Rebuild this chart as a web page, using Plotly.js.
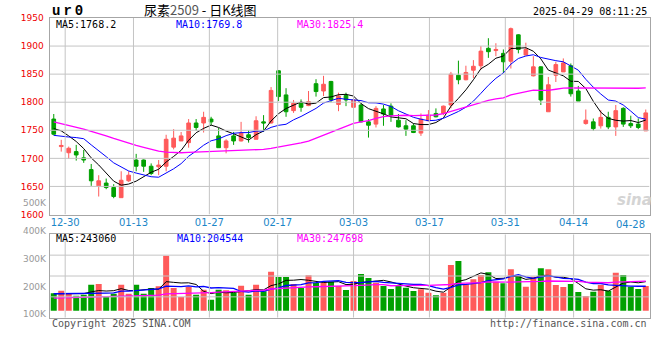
<!DOCTYPE html>
<html><head><meta charset="utf-8">
<script src="https://cdn.plot.ly/plotly-3.0.1.min.js"></script>
<style>html,body{margin:0;padding:0;background:#fff}#chart{width:660px;height:360px}</style>
</head><body><div id="chart"></div>
<script>
const categories = ['2024-12-26','2024-12-27','2024-12-30','2024-12-31','2025-01-02','2025-01-03','2025-01-06','2025-01-07','2025-01-08','2025-01-09','2025-01-10',
'2025-01-13','2025-01-14','2025-01-15','2025-01-16','2025-01-17','2025-01-20','2025-01-21','2025-01-22','2025-01-23','2025-01-24','2025-01-27',
'2025-02-05','2025-02-06','2025-02-07','2025-02-10','2025-02-11','2025-02-12','2025-02-13','2025-02-14',
'2025-02-17','2025-02-18','2025-02-19','2025-02-20','2025-02-21','2025-02-24','2025-02-25','2025-02-26','2025-02-27','2025-02-28',
'2025-03-03','2025-03-04','2025-03-05','2025-03-06','2025-03-07','2025-03-10','2025-03-11','2025-03-12','2025-03-13','2025-03-14',
'2025-03-17','2025-03-18','2025-03-19','2025-03-20','2025-03-21','2025-03-24','2025-03-25','2025-03-26','2025-03-27','2025-03-28',
'2025-03-31','2025-04-01','2025-04-02','2025-04-03','2025-04-07','2025-04-08','2025-04-09','2025-04-10','2025-04-11',
'2025-04-14','2025-04-15','2025-04-16','2025-04-17','2025-04-18','2025-04-21','2025-04-22','2025-04-23','2025-04-24','2025-04-25','2025-04-28'];

const tickDates = ['2024-12-30','2025-01-13','2025-01-27','2025-02-17','2025-03-03','2025-03-17','2025-03-31','2025-04-14','2025-04-28'];
const tickLabels = ['12-30','01-13','01-27','02-17','03-03','03-17','03-31','04-14','04-28'];
const priceTicks = [1600,1650,1700,1750,1800,1850,1900,1950];
const volTickVals = [100000,200000,300000,400000,500000];
const volTickText = ['100K','200K','300K','400K','500K'];

const open = [1770,1721,1710,1712,1701,1680,1651,1656,1648,1630,1660,1697,1697,1686,1685,1686,1720,1731,1728,1763,1763,1770,1740,1719,1740,1731,1742,1734,1765,1763,1856,1813,1785,1799,1794,1833,1820,1837,1796,1812,1791,1795,1765,1761,1788,1793,1768,1758,1758,1745,1767,1780,1780,1795,1848,1840,1857,1865,1896,1892,1887,1873,1920,1884,1847,1863,1783,1848,1854,1865,1820,1762,1765,1758,1773,1756,1789,1762,1761,1749];
const high = [1779,1733,1721,1724,1715,1690,1670,1664,1654,1677,1677,1708,1698,1691,1697,1742,1752,1747,1770,1770,1783,1774,1754,1734,1747,1765,1750,1775,1777,1827,1857,1825,1804,1805,1820,1841,1847,1838,1817,1817,1810,1798,1770,1793,1795,1798,1779,1768,1762,1780,1786,1789,1794,1854,1874,1865,1875,1900,1914,1905,1894,1933,1921,1906,1882,1864,1845,1872,1878,1869,1829,1787,1771,1786,1783,1795,1791,1776,1771,1787];
const low = [1741,1712,1699,1696,1692,1651,1632,1645,1629,1630,1658,1677,1676,1670,1670,1677,1716,1731,1719,1749,1746,1759,1719,1709,1724,1730,1728,1734,1747,1762,1802,1774,1781,1783,1793,1810,1811,1800,1784,1793,1778,1764,1737,1755,1758,1765,1755,1740,1745,1740,1767,1773,1777,1789,1832,1839,1843,1858,1879,1882,1852,1860,1887,1884,1846,1795,1783,1836,1854,1810,1802,1760,1749,1753,1752,1740,1756,1754,1752,1749];
const close = [1743,1723,1718,1706,1697,1660,1660,1648,1632,1661,1670,1686,1686,1673,1688,1734,1736,1740,1763,1755,1773,1765,1719,1731,1731,1745,1737,1767,1763,1821,1810,1783,1798,1791,1801,1819,1832,1804,1811,1804,1804,1765,1759,1789,1779,1777,1756,1752,1746,1770,1777,1774,1793,1850,1840,1853,1864,1891,1890,1894,1872,1931,1894,1894,1863,1804,1831,1867,1870,1815,1802,1768,1753,1773,1756,1785,1761,1758,1755,1781];

const ma5 = [1753,1749,1740,1730,1717.4,1700.8,1688.2,1674.2,1659.4,1652.2,1654.2,1659.4,1667.0,1675.2,1680.6,1693.4,1703.4,1714.2,1732.2,1745.6,1753.4,1759.2,1755.0,1748.6,1743.8,1738.2,1732.6,1742.2,1748.6,1766.6,1779.6,1788.8,1795.0,1800.6,1796.6,1798.4,1808.2,1809.4,1813.4,1814.0,1811.0,1797.6,1788.6,1784.2,1779.2,1773.8,1772.0,1770.6,1762.0,1760.2,1760.2,1763.8,1772.0,1792.8,1806.8,1822.0,1840.0,1859.6,1867.6,1878.4,1882.2,1895.6,1896.2,1897.0,1890.8,1877.2,1857.2,1851.8,1847.0,1837.4,1837.0,1824.4,1801.6,1782.2,1771.2,1767.8,1766.4,1767.4,1763.8,1768.2];
const ma10 = [1741,1739,1738,1737,1735,1724,1714,1703,1692,1684.8,1677.5,1673.8,1670.6,1667.3,1666.4,1673.8,1681.4,1690.6,1703.7,1713.1,1723.4,1731.3,1734.6,1740.4,1744.7,1745.8,1745.9,1748.6,1748.6,1755.2,1758.9,1760.7,1768.6,1774.6,1781.6,1789.0,1798.5,1802.2,1807.0,1805.3,1804.7,1802.9,1799.0,1798.8,1796.6,1792.4,1784.8,1779.6,1773.1,1769.7,1767.0,1767.9,1771.3,1777.4,1783.5,1791.1,1801.9,1815.8,1830.2,1842.6,1852.1,1867.8,1877.9,1882.3,1884.6,1879.7,1876.4,1874.0,1872.0,1864.1,1857.1,1840.8,1826.7,1814.6,1803.9,1802.0,1795.0,1784.1,1772.6,1769.8];
const ma30 = [1765,1762,1758.5,1755,1752,1748,1744.5,1740,1735.5,1731,1727,1723,1719.5,1716,1713,1711,1710,1710,1710.5,1711,1712,1712.5,1713,1713,1713.5,1714,1714,1715,1716,1717.7,1719.9,1721.9,1724.6,1727.4,1730.9,1736.2,1741.9,1747.1,1753.1,1757.9,1762.3,1765.0,1767.4,1771.3,1774.3,1775.7,1776.4,1776.8,1776.2,1776.7,1776.9,1777.2,1779.6,1783.6,1787.2,1790.8,1795.1,1799.2,1803.4,1805.9,1807.9,1812.9,1816.1,1819.5,1821.6,1821.1,1821.0,1823.1,1825.1,1825.5,1825.4,1825.5,1825.3,1824.8,1824.0,1824.3,1824.4,1824.6,1824.9,1825.4];

const volume = [146000,167000,142000,126000,134000,218000,224000,121000,142000,218000,142000,218000,142000,190000,204000,461000,190000,115000,198000,134000,176000,92000,176000,171000,148000,209000,134000,218000,162000,327000,282000,282000,224000,190000,296000,232000,238000,243000,207000,173000,249000,307000,274000,234000,207000,182000,215000,193000,165000,179000,151000,129000,151000,383000,416000,221000,263000,299000,322000,243000,229000,347000,291000,201000,285000,355000,347000,215000,198000,224000,157000,123000,159000,215000,168000,318000,299000,201000,182000,207000];
const volMa5 = [142000,143000,143000,143000,143000,157400,168800,164600,167800,184600,169400,168200,172400,182000,179200,243000,237400,232000,233600,219600,162600,143000,155200,149800,152600,159200,167600,176000,174200,210000,224600,254200,255400,261000,254800,244800,236000,239800,243200,218600,222000,235800,242000,247400,254200,240800,222400,206200,192400,186800,180600,163400,155000,198600,246000,260000,286800,316400,304200,269600,271200,288000,286400,262200,270600,295800,295800,280600,280000,267800,228200,183400,172200,175600,164400,196600,231800,240200,233600,243060];
const volMa10 = [142000,142000,143000,143000,144000,145000,146000,147000,149000,163800,163400,168500,168500,174900,181900,206200,202800,202200,207800,199400,202800,190200,193600,191700,186100,160900,155300,165600,162000,181300,191900,210900,215700,217600,232400,234700,245100,247600,252100,236700,233400,235900,240900,245300,236400,231400,229100,224100,219900,220500,210700,192900,180600,195500,216400,220300,225100,235700,251400,257800,265600,287400,301400,283200,270100,283500,291900,283500,271100,269200,262000,239600,226400,227800,216100,212400,207600,206200,204600,204544];
const volMa30 = [106000,108000,110000,111000,113000,114000,116000,117000,119000,120000,122000,124000,126000,128000,130000,141000,142000,144000,146000,148000,150000,152000,155000,157000,160000,163000,166000,169000,173000,181500,186000,189900,192600,194700,200100,200600,201100,205100,207300,205800,209400,212300,216700,218200,218300,209000,209800,212400,211300,212800,212000,213200,212400,219500,228400,228800,233100,235800,241100,238300,236600,238700,241000,241300,241000,245100,248700,247800,247500,249200,246100,240000,236100,235500,234200,238700,241500,241800,242400,247698];

// ---------- styling / geometry ----------
const W = 660, H = 360;
const px = v => v / W, py = v => 1 - v / H;
const RED = '#ff5a5a', GREEN = '#00a000';
const GRID = '#c4c4c4', FRAME = '#a6a6a6';
const MONO = 'DejaVu Sans Mono', SANS = 'DejaVu Sans';
const L = 50, R = 649.5;
const PRICE_TOP = 18, PRICE_BOTTOM = 214.5;
const VOL_TOP = 234.3, VOL_BOTTOM = 317.7, VOL_BASE = 310.7, VOL_PER_PX = 8373;
const volRange = [-(VOL_BOTTOM - VOL_BASE) * VOL_PER_PX, (VOL_BASE - VOL_TOP) * VOL_PER_PX];
const xRange = [-0.5, categories.length - 0.5];
const idxRange = [0, categories.length - 1];
const gridIdx = tickDates.slice(0, -1).map(d => categories.indexOf(d));
const lastIdx = tickDates.length - 1;

const barColors = close.map((c, i) => c >= open[i] ? RED : GREEN);
const lineT = (y, color, xa, ya, w) => ({type: 'scatter', mode: 'lines', x: categories, y: y, xaxis: xa, yaxis: ya,
  line: {color: color, width: w || 1}, hoverinfo: 'skip', showlegend: false});
const holder = (xa, ya) => ({type: 'scatter', mode: 'markers', x: [], y: [], xaxis: xa, yaxis: ya,
  hoverinfo: 'skip', showlegend: false});

// grid lines, drawn on the grid axes (x4 / x5 run from first to last trading day)
function gridTrace(xa, ya, hVals, vVals, yEnds) {
  const gx = [], gy = [];
  hVals.forEach(v => { gx.push(idxRange[0], idxRange[1], null); gy.push(v, v, null); });
  vVals.forEach(v => { gx.push(v, v, null); gy.push(yEnds[0], yEnds[1], null); });
  return {type: 'scatter', mode: 'lines', x: gx, y: gy, xaxis: xa, yaxis: ya, connectgaps: false,
    line: {color: GRID, width: 1}, hoverinfo: 'skip', showlegend: false};
}
const volQuarter = (volRange[1] - volRange[0]) / 4;
const volGrid = [1, 2, 3].map(k => volRange[0] + k * volQuarter);

const data = [
  gridTrace('x4', 'y', priceTicks.slice(1, -1), gridIdx, [priceTicks[0], priceTicks[priceTicks.length - 1]]),
  gridTrace('x5', 'y2', volGrid, gridIdx, volRange),
  holder('x3', 'y3'),
  {type: 'candlestick', x: categories, open: open, high: high, low: low, close: close, xaxis: 'x', yaxis: 'y',
   increasing: {line: {color: RED, width: 1}, fillcolor: RED},
   decreasing: {line: {color: GREEN, width: 1}, fillcolor: GREEN},
   whiskerwidth: 0, hoverinfo: 'skip', showlegend: false},
  lineT(ma5, '#000000', 'x', 'y', 1),
  lineT(ma10, '#0000ff', 'x', 'y', 1),
  lineT(ma30, '#ff00ff', 'x', 'y', 1.3),
  {type: 'bar', x: categories, y: volume, xaxis: 'x2', yaxis: 'y2', marker: {color: barColors, line: {width: 0}},
   hoverinfo: 'skip', showlegend: false},
  lineT(volMa5, '#000000', 'x2', 'y2', 1),
  lineT(volMa10, '#0000ff', 'x2', 'y2', 1.3),
  lineT(volMa30, '#ff00ff', 'x2', 'y2', 1.3)
];

const mono = (size, color) => ({family: MONO, size: size, color: color});
const ann = (text, x, y, xanchor, font) => ({text: text, x: px(x), y: py(y), xref: 'paper', yref: 'paper',
  xanchor: xanchor, yanchor: 'middle', showarrow: false, font: font});
const noGrid = {showgrid: false, zeroline: false};

const layout = {
  width: W, height: H, margin: {l: 0, r: 0, t: 0, b: 0},
  paper_bgcolor: '#ffffff', plot_bgcolor: 'rgba(0,0,0,0)',
  showlegend: false, bargap: 0.2, boxgap: 0.3,
  xaxis: Object.assign({type: 'category', domain: [px(L), px(R)], range: xRange, anchor: 'y',
    rangeslider: {visible: false},
    showline: true, mirror: true, linecolor: FRAME, linewidth: 1.5,
    tickmode: 'array', tickvals: [tickDates[lastIdx]], ticktext: [tickLabels[lastIdx]],
    ticklabelposition: 'outside left', ticks: '',
    tickfont: {family: SANS, size: 10, color: '#1a86c8'}}, noGrid),
  xaxis4: Object.assign({overlaying: 'x', anchor: 'y', range: idxRange, type: 'linear', autorange: false,
    tickmode: 'array', tickvals: gridIdx, ticktext: tickLabels.slice(0, -1), ticks: '', showline: false,
    tickfont: {family: SANS, size: 10, color: '#1a86c8'}}, noGrid),
  yaxis: Object.assign({domain: [py(PRICE_BOTTOM), py(PRICE_TOP)], range: [1600, 1950], anchor: 'x',
    tickmode: 'array', tickvals: priceTicks, ticks: '', ticklabelstandoff: 3,
    showline: true, mirror: true, linecolor: FRAME, linewidth: 1.5,
    tickfont: {family: SANS, size: 9, color: '#ee0000'}}, noGrid),
  xaxis2: Object.assign({type: 'category', domain: [px(L), px(R)], range: xRange, anchor: 'y2',
    showticklabels: false, ticks: '',
    showline: true, mirror: true, linecolor: FRAME, linewidth: 1.5}, noGrid),
  xaxis5: Object.assign({overlaying: 'x2', anchor: 'y2', range: idxRange, type: 'linear', autorange: false,
    tickmode: 'array', tickvals: gridIdx, showticklabels: false, ticks: '', showline: false}, noGrid),
  yaxis2: Object.assign({domain: [py(VOL_BOTTOM), py(VOL_TOP)], range: volRange, anchor: 'x2',
    showticklabels: false, ticks: '',
    showline: true, mirror: true, linecolor: FRAME, linewidth: 1.5}, noGrid),
  xaxis3: Object.assign({domain: [px(L), px(R)], range: [0, 1], autorange: false, anchor: 'y3',
    showline: false, showticklabels: false, ticks: ''}, noGrid),
  yaxis3: Object.assign({domain: [py(320), py(195)], range: [79400, 528500], autorange: false, anchor: 'x3',
    tickmode: 'array', tickvals: volTickVals, ticktext: volTickText, ticks: '', ticklabelstandoff: 3,
    showline: false, tickfont: {family: SANS, size: 9, color: '#999999'}}, noGrid),
  annotations: [
    {text: '<b><span style="letter-spacing:3px">ur0</span></b>', x: px(50), y: py(11), xref: 'paper', yref: 'paper',
     xanchor: 'left', yanchor: 'middle', showarrow: false, font: {family: 'Liberation Mono', size: 14, color: '#000'}},
    {text: '尿素<span style="color:#555">2509</span> - 日K线图', x: px(200), y: py(9.5), xref: 'paper', yref: 'paper',
     xanchor: 'center', yanchor: 'middle', showarrow: false, font: {family: 'Noto Sans CJK SC', size: 13, color: '#000'}},
    ann('2025-04-29 08:11:25', 649, 11.5, 'right', mono(10, '#000')),
    ann('MA5:1768.2', 54, 24.5, 'left', mono(10, '#000')),
    ann('MA10:1769.8', 174, 24.5, 'left', mono(10, '#0000ff')),
    ann('MA30:1825.4', 295, 24.5, 'left', mono(10, '#ff00ff')),
    ann('MA5:243060', 54, 238.5, 'left', mono(10, '#000')),
    ann('MA10:204544', 174.5, 238.5, 'left', mono(10, '#0000ff')),
    ann('MA30:247698', 295, 238.5, 'left', mono(10, '#ff00ff')),
    ann('Copyright 2025 SINA.COM', 50, 323.5, 'left', mono(10, '#555')),
    ann('http://finance.sina.com.cn', 649, 323.5, 'right', mono(10, '#555')),
    ann('<b><i>sina</i></b>', 634, 200, 'center', {family: SANS, size: 15, color: '#d4d4d4'})
  ]
};

Plotly.newPlot('chart', data, layout, {staticPlot: true, displayModeBar: false});
</script></body></html>
